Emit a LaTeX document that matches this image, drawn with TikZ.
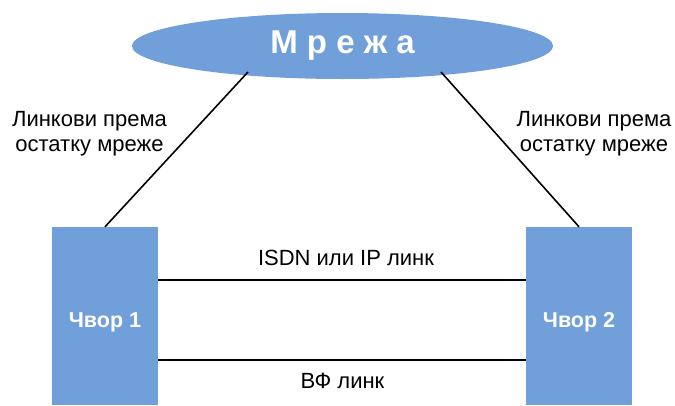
\documentclass[tikz,border=0pt]{standalone}
\usepackage{fontspec}
\setmainfont{Liberation Sans}
\usetikzlibrary{shapes.geometric}
\definecolor{netblue}{RGB}{113,159,218}
\tikzset{
  px/.style={x=1pt,y=-1pt},
  nodebox/.style={fill=netblue,draw=none,minimum width=106pt,minimum height=178pt,
    inner sep=0pt,text=white,font=\fontsize{21.5}{24}\selectfont\bfseries},
  cloud/.style={ellipse,fill=netblue,draw=none,minimum width=421pt,minimum height=66pt,
    inner sep=0pt,text=white,font=\fontsize{33}{36}\selectfont\bfseries},
  link/.style={line width=1.6pt,black},
  lbl/.style={font=\fontsize{22}{25}\selectfont,align=center,inner sep=0pt}
}
% node caption with its baseline a fixed distance below the box centre
\newcommand{\boxcaption}[1]{\raisebox{-11pt}[0pt][0pt]{#1}}
\begin{document}
\begin{tikzpicture}[px]
\useasboundingbox (0,0) rectangle (675,405);
% network cloud
\node[cloud] (net) at (342.5,46) {М р е ж а};
% the two nodes (boxes run off the bottom edge)
\node[nodebox] (n1) at (105,316) {\boxcaption{Чвор 1}};
\node[nodebox] (n2) at (579,316) {\boxcaption{Чвор 2}};
% anchors of the links to the rest of the network
\coordinate (e1) at (248,72);
\coordinate (e2) at (441,72);
\draw[link] (n1.north) -- (e1);
\draw[link] (n2.north) -- (e2);
% direct links between the nodes
\draw[link] (n1.east |- 0,280) coordinate (a1) -- (n2.west |- 0,280) coordinate (a2);
\draw[link] (n1.east |- 0,360) coordinate (b1) -- (n2.west |- 0,360) coordinate (b2);
% labels
\node[lbl,anchor=base] (t1) at (346,265) {ISDN или IP линк};
\node[lbl,anchor=base] (t2) at (342.5,388) {ВФ линк};
\node[lbl] (l1) at (89.5,134) {Линкови према\\остатку мреже};
\node[lbl] (l2) at (594,134) {Линкови према\\остатку мреже};
\end{tikzpicture}
\end{document}
